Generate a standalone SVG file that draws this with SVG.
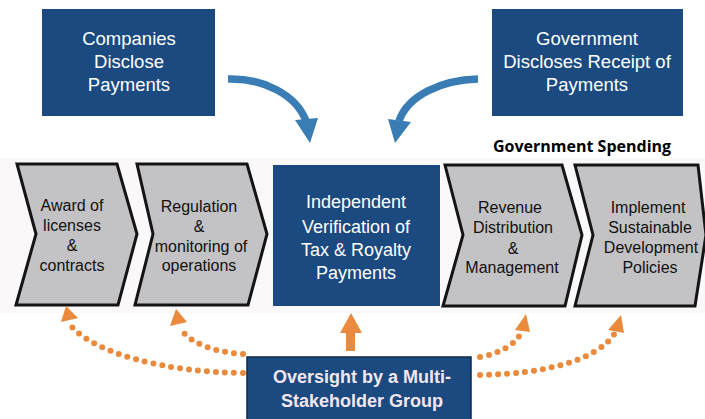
<svg xmlns="http://www.w3.org/2000/svg" width="705" height="419" viewBox="0 0 705 419">
<defs>
<style>
.box{fill:#1b4a80}
.chev{fill:#c3c3c5;stroke:#141414;stroke-width:3;stroke-linejoin:miter}
.wt{font-family:"Liberation Sans",Arial,sans-serif;font-size:18.5px;fill:#ffffff;text-anchor:middle}
.ct{font-family:"Liberation Sans",Arial,sans-serif;font-size:16px;fill:#111111;text-anchor:middle}
.bt{font-family:"Liberation Sans",Arial,sans-serif;font-size:18px;font-weight:bold;fill:#f3e6ee;text-anchor:middle}
.gs{font-family:"Open Sans","Noto Sans",sans-serif;font-size:16px;font-weight:bold;fill:#000000}
.bluearrow{fill:none;stroke:#3a7cb4;stroke-width:7.5}
.dots{fill:none;stroke:#ea8a3c;stroke-width:6;stroke-linecap:round;stroke-dasharray:0 9}
</style>
</defs>
<rect x="0" y="0" width="705" height="419" fill="#ffffff"/>
<rect x="0" y="158" width="705" height="155" fill="#faf8f8"/>

<g id="companies">
<rect class="box" x="42" y="9" width="173" height="107"/>
<text class="wt" x="129" y="45">Companies</text>
<text class="wt" x="129" y="68">Disclose</text>
<text class="wt" x="129" y="91">Payments</text>
</g>

<g id="government">
<rect class="box" x="492" y="9" width="191" height="107"/>
<text class="wt" x="587" y="45">Government</text>
<text class="wt" x="587" y="68">Discloses Receipt of</text>
<text class="wt" x="587" y="91">Payments</text>
</g>

<g id="gov-spending-label">
<text class="gs" x="493" y="152">Government Spending</text>
</g>

<g id="award">
<polygon class="chev" points="17,164 117,164 137,234 118,305 16,305 36,234"/>
<text class="ct" x="72" y="211">Award of</text>
<text class="ct" x="72" y="231">licenses</text>
<text class="ct" x="72" y="251">&amp;</text>
<text class="ct" x="72" y="271">contracts</text>
</g>

<g id="regulation">
<polygon class="chev" points="137,164 247,164 267,234 248,305 135,305 153,234"/>
<text class="ct" x="199" y="212">Regulation</text>
<text class="ct" x="199" y="232">&amp;</text>
<text class="ct" x="201" y="252">monitoring of</text>
<text class="ct" x="199" y="271">operations</text>
</g>

<g id="verification">
<rect class="box" x="273" y="165" width="167" height="141" fill="#1c4a86"/>
<text class="wt" x="356" y="208" style="font-size:18px">Independent</text>
<text class="wt" x="356" y="233" style="font-size:18px">Verification of</text>
<text class="wt" x="356" y="256" style="font-size:18px">Tax &amp; Royalty</text>
<text class="wt" x="356" y="279" style="font-size:18px">Payments</text>
</g>

<g id="revenue">
<polygon class="chev" points="445,165 562,165 582,235 565,306 443,306 463,235"/>
<text class="ct" x="510" y="213">Revenue</text>
<text class="ct" x="513" y="233">Distribution</text>
<text class="ct" x="513" y="254">&amp;</text>
<text class="ct" x="512" y="273">Management</text>
</g>

<g id="implement">
<polygon class="chev" points="575,165 698,165 706,235 695,306 575,306 593,235"/>
<text class="ct" x="648" y="213">Implement</text>
<text class="ct" x="650" y="233">Sustainable</text>
<text class="ct" x="651" y="253">Development</text>
<text class="ct" x="650" y="273">Policies</text>
</g>

<g id="oversight">
<rect x="247" y="357" width="224" height="64" fill="#1b4a80" stroke="#0f2a4a" stroke-width="1.5"/>
<text class="bt" x="362" y="383">Oversight by a Multi-</text>
<text class="bt" x="362" y="407">Stakeholder Group</text>
</g>

<g id="connectors">
<path class="bluearrow" d="M228,79 C262,78 296,94 306,121"/>
<polygon points="295,120 318,118 310,143" fill="#3a7cb4"/>
<path class="bluearrow" d="M478,79 C442,80 408,95 399,121"/>
<polygon points="388,119 411,122 395,143" fill="#3a7cb4"/>

<rect x="346" y="331" width="9" height="20" fill="#ea8a3c"/>
<polygon points="340,333 362,333 351,313" fill="#ea8a3c"/>

<path class="dots" d="M243,373 C160,372 95,352 72,327"/>
<polygon points="61,322 78,318 66,306" fill="#ea8a3c"/>
<path class="dots" d="M243,354 C212,352 192,343 181,330"/>
<polygon points="170,326 187,322 176,309" fill="#ea8a3c"/>
<path class="dots" d="M480,357 C500,353 514,346 521,333"/>
<polygon points="515,330 530,332 526,314" fill="#ea8a3c"/>
<path class="dots" d="M480,375 C545,374 598,360 615,333"/>
<polygon points="608,330 624,333 621,315" fill="#ea8a3c"/>
</g>
</svg>
